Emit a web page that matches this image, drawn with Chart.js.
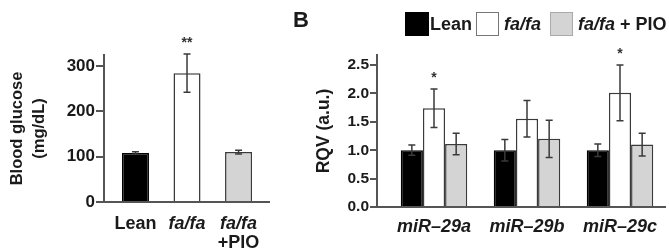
<!DOCTYPE html>
<html><head><meta charset="utf-8">
<script src="https://cdn.jsdelivr.net/npm/chart.js@4/dist/chart.umd.min.js"></script>
<style>
html,body{margin:0;padding:0;background:#fff;}
body{width:669px;height:251px;position:relative;overflow:hidden;font-family:"Liberation Sans",Arial,sans-serif;color:#1a1a1a;}
canvas{position:absolute;top:0;}
#c1{left:0;}
#c2{left:280px;}
.t{position:absolute;font-weight:bold;white-space:nowrap;line-height:1;}
.box{position:absolute;box-sizing:border-box;width:24px;height:24px;top:12px;}
</style></head><body>
<canvas id="c1" width="280" height="251"></canvas>
<canvas id="c2" width="389" height="251"></canvas>
<div class="t" style="left:293px;top:9px;font-size:22px;">B</div>
<div class="box" style="left:405px;background:#000;border:1px solid #000;"></div>
<div class="t" style="left:430px;top:15px;font-size:18px;">Lean</div>
<div class="box" style="left:476px;width:23px;background:#fff;border:1px solid #777;"></div>
<div class="t" style="left:504px;top:15px;font-size:18px;"><i>fa/fa</i></div>
<div class="box" style="left:550px;width:23px;background:#d4d4d4;border:1px solid #aaa;"></div>
<div class="t" style="left:578px;top:15px;font-size:18px;"><i>fa/fa</i> + PIO</div>
<script>
// ---- Panel A data ----
const glucoseGroups = ['Lean', 'fa/fa', 'fa/fa'];
const glucoseSecondLine = ['', '', '+PIO'];
const glucoseItalic = [false, true, true];
const glucoseMean = [108, 284, 110];
const glucoseErr = [3, 42, 4];
const glucoseSig = ['', '**', ''];
const glucoseTicks = [0, 100, 200, 300];

// ---- Panel B data ----
const mirnaLabels = ['miR\u201329a', 'miR\u201329b', 'miR\u201329c'];
const leanRQV = [1.00, 1.00, 1.00];
const leanErr = [0.09, 0.19, 0.11];
const fafaRQV = [1.74, 1.555, 2.01];
const fafaErr = [0.34, 0.32, 0.49];
const pioRQV = [1.11, 1.20, 1.10];
const pioErr = [0.19, 0.33, 0.20];
const fafaSig = ['*', '', '*'];
const rqvTicks = [0, 0.5, 1.0, 1.5, 2.0, 2.5];

const FONT = '"Liberation Sans", Arial, sans-serif';
const AX = '#555';
const TXT = '#1a1a1a';

const errorBars = {
  id: 'errorBars',
  afterDatasetsDraw(chart) {
    const ctx = chart.ctx, y = chart.scales.y;
    chart.data.datasets.forEach((ds, di) => {
      if (!ds.errors) return;
      const meta = chart.getDatasetMeta(di);
      meta.data.forEach((el, i) => {
        const v = ds.data[i].y, e = ds.errors[i];
        const t = y.getPixelForValue(v + e), b = y.getPixelForValue(v - e);
        ctx.save();
        ctx.strokeStyle = '#3a3a3a'; ctx.lineWidth = 1.5;
        ctx.beginPath();
        ctx.moveTo(el.x, t); ctx.lineTo(el.x, b);
        ctx.moveTo(el.x - 3.5, t); ctx.lineTo(el.x + 3.5, t);
        ctx.moveTo(el.x - 3.5, b); ctx.lineTo(el.x + 3.5, b);
        ctx.stroke();
        if (ds.sig && ds.sig[i]) {
          ctx.fillStyle = '#333'; ctx.font = 'bold 14px ' + FONT;
          ctx.textAlign = 'center'; ctx.textBaseline = 'middle';
          ctx.fillText(ds.sig[i], el.x, t - 11);
        }
        ctx.restore();
      });
    });
  }
};

const secondLine = {
  id: 'secondLine',
  afterDraw(chart) {
    const xs = chart.scales.x, ctx = chart.ctx;
    ctx.save();
    ctx.fillStyle = TXT; ctx.font = 'bold 18px ' + FONT;
    ctx.textAlign = 'center'; ctx.textBaseline = 'middle';
    glucoseSecondLine.forEach((s, i) => { if (s) ctx.fillText(s, xs.getPixelForValue(i), xs.top + 41); });
    ctx.restore();
  }
};

function xy(arr) { return arr.map((v, i) => ({ x: i, y: v })); }

Chart.defaults.font.family = FONT;
Chart.defaults.color = TXT;

new Chart(document.getElementById('c1'), {
  type: 'bar',
  data: {
    datasets: [{
      data: xy(glucoseMean),
      errors: glucoseErr,
      sig: glucoseSig,
      backgroundColor: ['#000000', '#ffffff', '#d4d4d4'],
      borderColor: ['#000000', '#3a3a3a', '#3a3a3a'],
      borderWidth: 1.5,
      categoryPercentage: 0.524,
      barPercentage: 1.0
    }]
  },
  options: {
    responsive: false, animation: false,
    layout: { padding: { top: 55, right: 11, left: 0, bottom: 0 } },
    plugins: { legend: { display: false }, tooltip: { enabled: false } },
    scales: {
      x: {
        type: 'linear', offset: false, min: -0.61, max: 2.59,
        afterBuildTicks: s => { s.ticks = glucoseGroups.map((g, i) => ({ value: i })); },
        afterFit: s => { s.height = 49; },
        grid: { display: false, drawTicks: false },
        border: { display: true, color: AX, width: 2 },
        ticks: {
          autoSkip: false, maxRotation: 0, padding: 11, color: TXT,
          callback: v => glucoseGroups[v],
          font: c => ({ size: 18, weight: 'bold', style: glucoseItalic[c.index] ? 'italic' : 'normal' })
        }
      },
      y: {
        min: 0, max: 324,
        afterBuildTicks: s => { s.ticks = glucoseTicks.map(v => ({ value: v })); },
        afterFit: s => { s.width = 104; },
        grid: { drawOnChartArea: false, drawTicks: true, tickLength: 8, color: AX, lineWidth: 2 },
        border: { display: true, color: AX, width: 2 },
        ticks: { padding: 1, color: TXT, font: { size: 17, weight: 'bold' } },
        title: {
          display: true, text: ['Blood glucose', '(mg/dL)'], color: TXT,
          font: { size: 16.5, weight: 'bold', lineHeight: 1.3 },
          padding: { top: 7, bottom: 0 }
        }
      }
    }
  },
  plugins: [errorBars, secondLine]
});

new Chart(document.getElementById('c2'), {
  type: 'bar',
  data: {
    datasets: [
      { label: 'Lean', data: xy(leanRQV), errors: leanErr, backgroundColor: '#000', borderColor: '#000', borderWidth: 1.5, categoryPercentage: 0.715, barPercentage: 1 },
      { label: 'fa/fa', data: xy(fafaRQV), errors: fafaErr, sig: fafaSig, backgroundColor: '#fff', borderColor: '#3a3a3a', borderWidth: 1.5, categoryPercentage: 0.715, barPercentage: 1 },
      { label: 'fa/fa + PIO', data: xy(pioRQV), errors: pioErr, backgroundColor: '#d4d4d4', borderColor: '#3a3a3a', borderWidth: 1.5, categoryPercentage: 0.715, barPercentage: 1 }
    ]
  },
  options: {
    responsive: false, animation: false,
    layout: { padding: { top: 55, right: 4, left: 0, bottom: 0 } },
    plugins: { legend: { display: false }, tooltip: { enabled: false } },
    scales: {
      x: {
        type: 'linear', offset: false, min: -0.613, max: 2.484,
        afterBuildTicks: s => { s.ticks = mirnaLabels.map((g, i) => ({ value: i })); },
        afterFit: s => { s.height = 44; },
        grid: { display: false, drawTicks: false },
        border: { display: true, color: AX, width: 2 },
        ticks: {
          autoSkip: false, maxRotation: 0, padding: 9, color: TXT,
          callback: v => mirnaLabels[v],
          font: { size: 18, weight: 'bold', style: 'italic' }
        }
      },
      y: {
        min: 0, max: 2.677,
        afterBuildTicks: s => { s.ticks = rqvTicks.map(v => ({ value: v })); },
        afterFit: s => { s.width = 97; },
        grid: { drawOnChartArea: false, drawTicks: true, tickLength: 7, color: AX, lineWidth: 2 },
        border: { display: true, color: AX, width: 2 },
        ticks: { padding: 1, color: TXT, font: { size: 15.5, weight: 'bold' }, callback: v => Number(v).toFixed(1) },
        title: {
          display: true, text: 'RQV (a.u.)', color: TXT,
          font: { size: 17.5, weight: 'bold', lineHeight: 1.2 },
          padding: { top: 34, bottom: 0 }
        }
      }
    }
  },
  plugins: [errorBars]
});
</script>
</body></html>
